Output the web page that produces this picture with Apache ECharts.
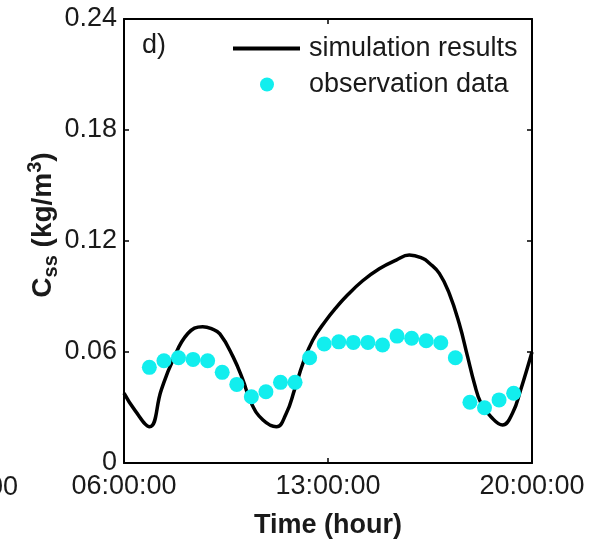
<!DOCTYPE html>
<html>
<head>
<meta charset="utf-8">
<script src="https://cdn.jsdelivr.net/npm/echarts@6/dist/echarts.min.js"></script>
<style>
    html, body { margin: 0; padding: 0; background: #fff; }
    #chart { width: 604px; height: 544px; }
</style>
</head>
<body>
<div id="chart"></div>
<script>
// 时间轴从 06:00 开始，数据里写的是一天中的小时
const START = 6

// 模拟结果 (黑线)
const simHours = [6.00, 6.37, 6.88, 7.28, 7.68, 8.19, 8.70, 9.00, 9.29, 9.74,
    10.08, 10.37, 10.77, 11.23, 11.57, 11.85, 12.14, 12.48, 12.94, 13.28,
    13.62, 14.19, 14.76, 15.34, 15.79, 16.25, 16.48, 16.82, 17.16, 17.50,
    17.79, 18.02, 18.25, 18.59, 18.99, 19.33, 19.61, 20.00]
const simValues = [0.0378, 0.0286, 0.0196, 0.0395, 0.0557, 0.0700, 0.0737, 0.0726, 0.0698, 0.0575,
    0.0449, 0.0323, 0.0232, 0.0196, 0.0269, 0.0395, 0.0539, 0.0665, 0.0773, 0.0840,
    0.0900, 0.0985, 0.1050, 0.1097, 0.1124, 0.1106, 0.1080, 0.1025, 0.0917, 0.0755,
    0.0575, 0.0431, 0.0323, 0.0250, 0.0205, 0.0269, 0.0395, 0.0600]

// 观测数据 (青色圆点)
const obsHours = [6.87, 7.37, 7.87, 8.37, 8.87, 9.37, 9.87, 10.37, 10.87, 11.37,
    11.87, 12.37, 12.87, 13.37, 13.87, 14.37, 14.87, 15.37, 15.87, 16.37,
    16.87, 17.37, 17.87, 18.37, 18.87, 19.37]
const obsValues = [0.0517, 0.0553, 0.0569, 0.0560, 0.0553, 0.0490, 0.0425, 0.0358, 0.0385, 0.0436,
    0.0436, 0.0569, 0.0643, 0.0655, 0.0652, 0.0652, 0.0638, 0.0686, 0.0674, 0.0661,
    0.0650, 0.0569, 0.0328, 0.0299, 0.0341, 0.0377]

// 刻度标签
const xTickLabels = ['06:00:00', '13:00:00', '20:00:00']
const yTickLabels = ['0', '0.06', '0.12', '0.18', '0.24']

const FONT = '"Liberation Sans", Arial, Helvetica, sans-serif'
const TXT = '#1a1a1a'
const CYAN = '#12EEEE'

let myChart = echarts.init(document.getElementById('chart'))

// 四周的边框轴，刻度朝里
function boxAxis (opt) {
    return Object.assign({
        axisLine: { show: true, onZero: false, lineStyle: { color: '#000', width: 2 } },
        axisTick: { show: true, inside: true, length: 5, lineStyle: { color: '#000', width: 1.5 } },
        splitLine: { show: false }
    }, opt)
}

myChart.setOption({
    animation: false,
    grid: { left: 124, right: 72, top: 19, bottom: 81, containLabel: false },
    legend: [
        {
            data: [{ name: 'simulation results', icon: 'rect' }],
            left: 233, top: 35, padding: 0,
            itemWidth: 67, itemHeight: 4,
            textStyle: { fontFamily: FONT, fontSize: 27, color: TXT, padding: [0, 0, 0, 4] }
        },
        {
            data: [{ name: 'observation data', icon: 'circle' }],
            left: 260, top: 71, padding: 0,
            itemWidth: 14, itemHeight: 14,
            textStyle: { fontFamily: FONT, fontSize: 27, color: TXT, padding: [0, 0, 0, 30] }
        }
    ],
    xAxis: [
        boxAxis({
            type: 'value',
            min: 0, max: 14, interval: 7,
            position: 'bottom',
            name: 'Time (hour)',
            nameLocation: 'middle',
            nameGap: 49,
            nameMoveOverlap: false,
            nameTextStyle: { fontFamily: FONT, fontSize: 27, fontWeight: 'bold', color: TXT },
            axisLabel: {
                margin: 10,
                fontFamily: FONT, fontSize: 27, color: TXT,
                formatter: function (v) { return xTickLabels[Math.round(v / 7)] }
            }
        }),
        boxAxis({
            type: 'value',
            min: 0, max: 14, interval: 7,
            position: 'top',
            axisLabel: { show: false }
        })
    ],
    yAxis: [
        boxAxis({
            type: 'value',
            min: 0, max: 0.24, interval: 0.06,
            position: 'left',
            name: '{m|C}{s|ss}{m| (kg/m}{p|3}{m|)}',
            nameLocation: 'middle',
            nameRotate: 90,
            nameGap: 63,
            nameMoveOverlap: false,
            nameTextStyle: {
                fontFamily: FONT, color: TXT,
                padding: [0, 0, 0, 32],
                rich: {
                    m: { fontFamily: FONT, fontSize: 28, fontWeight: 'bold', color: TXT, lineHeight: 36, verticalAlign: 'middle' },
                    s: { fontFamily: FONT, fontSize: 20, fontWeight: 'bold', color: TXT, lineHeight: 18, verticalAlign: 'bottom' },
                    p: { fontFamily: FONT, fontSize: 20, fontWeight: 'bold', color: TXT, lineHeight: 18, verticalAlign: 'top' }
                }
            },
            axisLabel: {
                margin: 7,
                fontFamily: FONT, fontSize: 27, color: TXT,
                formatter: function (v) { return yTickLabels[Math.round(v / 0.06)] }
            }
        }),
        boxAxis({
            type: 'value',
            min: 0, max: 0.24, interval: 0.06,
            position: 'right',
            axisLabel: { show: false }
        })
    ],
    graphic: [
        { type: 'text', left: 142, top: 32, style: { text: 'd)', fontFamily: FONT, fontSize: 27, fill: TXT } },
        // 左边邻图被裁掉的刻度标签
        { type: 'text', right: 586, top: 474, style: { text: '20:00:00', fontFamily: FONT, fontSize: 27, fill: TXT } }
    ],
    series: [
        {
            name: 'simulation results',
            type: 'line',
            xAxisIndex: 0, yAxisIndex: 0,
            data: simHours.map((h, i) => [h - START, simValues[i]]),
            smooth: 0.45,
            symbol: 'none',
            lineStyle: { color: '#000', width: 3.5 },
            itemStyle: { color: '#000' },
            z: 2
        },
        {
            name: 'observation data',
            type: 'scatter',
            xAxisIndex: 0, yAxisIndex: 0,
            data: obsHours.map((h, i) => [h - START, obsValues[i]]),
            symbol: 'circle',
            symbolSize: 15,
            itemStyle: { color: CYAN, opacity: 1 },
            z: 3
        }
    ]
})
</script>
</body>
</html>
